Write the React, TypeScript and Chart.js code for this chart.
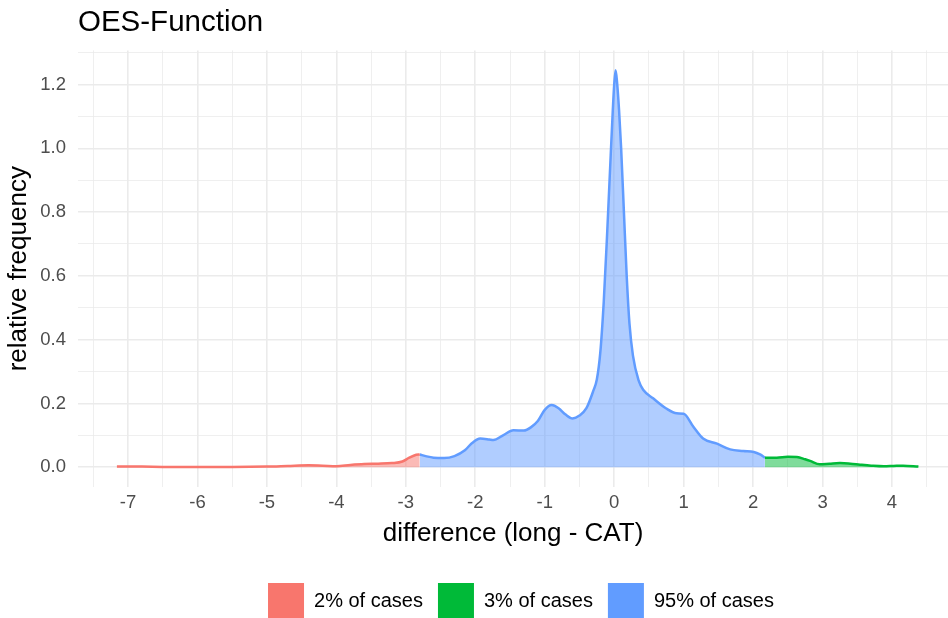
import { useEffect, useRef } from 'react';
import { Chart, registerables } from 'chart.js';

Chart.register(...registerables);

const chartTitle = 'OES-Function';
const xAxisTitle = 'difference (long - CAT)';
const yAxisTitle = 'relative frequency';

const seriesLabels = ['2% of cases', '3% of cases', '95% of cases'];
const seriesLine = ['#F8766D', '#00BA38', '#619CFF'];
const seriesFill = ['rgba(248,118,109,0.5)', 'rgba(0,186,56,0.5)', 'rgba(97,156,255,0.5)'];

// lower tail (2% of cases)
const lowX = [-7.16, -7.0, -6.8, -6.5, -6.0, -5.5, -5.0, -4.7, -4.4, -4.2, -4.0, -3.8, -3.6, -3.4, -3.2, -3.05, -2.95, -2.85, -2.8];
const lowY = [0.002, 0.002, 0.002, 0.001, 0.001, 0.001, 0.002, 0.004, 0.006, 0.005, 0.003, 0.007, 0.010, 0.011, 0.013, 0.018, 0.030, 0.039, 0.040];

// upper tail (3% of cases)
const highX = [2.17, 2.34, 2.5, 2.63, 2.75, 2.82, 2.96, 3.1, 3.25, 3.4, 3.54, 3.7, 3.88, 4.02, 4.16, 4.38];
const highY = [0.030, 0.030, 0.033, 0.032, 0.025, 0.020, 0.009, 0.011, 0.013, 0.011, 0.008, 0.005, 0.003, 0.004, 0.005, 0.002];

// central part (95% of cases)
const midX = [-2.8, -2.7, -2.6, -2.45, -2.3, -2.15, -2.05, -1.93, -1.8, -1.74, -1.6, -1.45, -1.3, -1.2, -1.1, -1.0, -0.9, -0.8, -0.7, -0.6, -0.5, -0.4, -0.3, -0.25, -0.2, -0.15, -0.1, -0.05, -0.02, 0.0, 0.02, 0.04, 0.07, 0.1, 0.14, 0.18, 0.22, 0.27, 0.35, 0.42, 0.56, 0.75, 0.9, 1.0, 1.14, 1.28, 1.48, 1.67, 1.86, 2.01, 2.1, 2.17];
const midY = [0.040, 0.034, 0.030, 0.029, 0.035, 0.053, 0.075, 0.090, 0.087, 0.085, 0.100, 0.116, 0.115, 0.125, 0.145, 0.180, 0.195, 0.185, 0.165, 0.153, 0.162, 0.185, 0.240, 0.275, 0.36, 0.52, 0.74, 0.98, 1.12, 1.20, 1.245, 1.21, 1.12, 1.00, 0.80, 0.60, 0.45, 0.35, 0.273, 0.242, 0.216, 0.184, 0.169, 0.168, 0.127, 0.090, 0.074, 0.056, 0.051, 0.048, 0.040, 0.030];

const xTickValues = [-7.5, -7, -6.5, -6, -5.5, -5, -4.5, -4, -3.5, -3, -2.5, -2, -1.5, -1, -0.5, 0, 0.5, 1, 1.5, 2, 2.5, 3, 3.5, 4, 4.5];
const xLabelValues = [-7, -6, -5, -4, -3, -2, -1, 0, 1, 2, 3, 4];
const yTickValues = [0, 0.1, 0.2, 0.3, 0.4, 0.5, 0.6, 0.7, 0.8, 0.9, 1.0, 1.1, 1.2, 1.3];
const yLabelValues = [0, 0.2, 0.4, 0.6, 0.8, 1.0, 1.2];

const xMin = -7.72;
const xMax = 4.806;
const yMin = -0.062;
const yMax = 1.307;

const FONT = '"Liberation Sans", Arial, Helvetica, sans-serif';

const isIn = (v: number, list: number[]) => list.some((l) => Math.abs(l - v) < 1e-6);

const toPoints = (xs: number[], ys: number[]) => xs.map((x, i) => ({ x, y: ys[i] }));

export default function App() {
  const ref = useRef<HTMLCanvasElement | null>(null);

  useEffect(() => {
    document.body.style.margin = '0';
    const canvas = ref.current;
    if (!canvas) return;

    const shiftLegend = {
      id: 'shiftLegend',
      afterLayout(chart: any) {
        const lg = chart.legend;
        if (lg) {
          lg.top += 11;
          lg.bottom += 11;
          lg.left += 47;
          lg.right += 47;
        }
      },
    };

    const makeDs = (i: number, xs: number[], ys: number[]) => ({
      label: seriesLabels[i],
      data: toPoints(xs, ys),
      borderColor: seriesLine[i],
      backgroundColor: seriesFill[i],
      borderWidth: 2.5,
      fill: 'origin',
      pointRadius: 0,
      cubicInterpolationMode: 'monotone' as const,
    });

    const chart = new Chart(canvas, {
      type: 'line',
      data: {
        datasets: [makeDs(0, lowX, lowY), makeDs(1, highX, highY), makeDs(2, midX, midY)],
      },
      plugins: [shiftLegend],
      options: {
        animation: false,
        responsive: false,
        maintainAspectRatio: false,
        layout: { padding: { left: 0, right: 0, top: 0, bottom: 0 } },
        plugins: {
          tooltip: { enabled: false },
          title: {
            display: true,
            text: chartTitle,
            align: 'start',
            fullSize: false,
            color: '#000000',
            font: { family: FONT, size: 29.5, weight: 'normal' },
            padding: { top: 5, bottom: 10 },
          },
          legend: {
            display: true,
            position: 'bottom',
            labels: {
              boxWidth: 36,
              boxHeight: 36,
              padding: 15,
              color: '#000000',
              font: { family: FONT, size: 20 },
              generateLabels: () =>
                seriesLabels.map((t, i) => ({
                  text: t,
                  fillStyle: seriesLine[i],
                  strokeStyle: seriesLine[i],
                  lineWidth: 0,
                  hidden: false,
                  datasetIndex: i,
                })),
            },
          },
        },
        scales: {
          x: {
            type: 'linear',
            min: xMin,
            max: xMax,
            afterBuildTicks: (axis: any) => {
              axis.ticks = xTickValues.map((v) => ({ value: v }));
            },
            afterFit: (axis: any) => {
              axis.height = 70;
            },
            border: { display: false },
            grid: {
              drawTicks: false,
              color: '#EBEBEB',
              lineWidth: (ctx: any) => (isIn(ctx.tick?.value, xLabelValues) ? 1.6 : 0.8),
            },
            ticks: {
              padding: 5,
              color: '#4D4D4D',
              font: { family: FONT, size: 18.5 },
              maxRotation: 0,
              autoSkip: false,
              callback: (v: any) => (isIn(Number(v), xLabelValues) ? String(v) : ''),
            },
            title: {
              display: true,
              text: xAxisTitle,
              color: '#000000',
              font: { family: FONT, size: 26 },
              padding: { top: 0, bottom: 8 },
            },
          },
          y: {
            type: 'linear',
            min: yMin,
            max: yMax,
            afterBuildTicks: (axis: any) => {
              axis.ticks = yTickValues.map((v) => ({ value: v }));
            },
            afterFit: (axis: any) => {
              axis.width = 78;
            },
            border: { display: false },
            grid: {
              drawTicks: false,
              color: '#EBEBEB',
              lineWidth: (ctx: any) => (isIn(ctx.tick?.value, yLabelValues) ? 1.6 : 0.8),
            },
            ticks: {
              padding: 12,
              color: '#4D4D4D',
              font: { family: FONT, size: 18.5 },
              autoSkip: false,
              callback: (v: any) => (isIn(Number(v), yLabelValues) ? Number(v).toFixed(1) : ''),
            },
            title: {
              display: true,
              text: yAxisTitle,
              color: '#000000',
              font: { family: FONT, size: 26 },
              padding: { top: 3, bottom: 0 },
            },
          },
        },
      },
    });

    return () => chart.destroy();
  }, []);

  return (
    <div style={{ width: 948, height: 618, background: '#ffffff' }}>
      <canvas ref={ref} width={948} height={618} style={{ display: 'block', width: 948, height: 618 }} />
    </div>
  );
}
